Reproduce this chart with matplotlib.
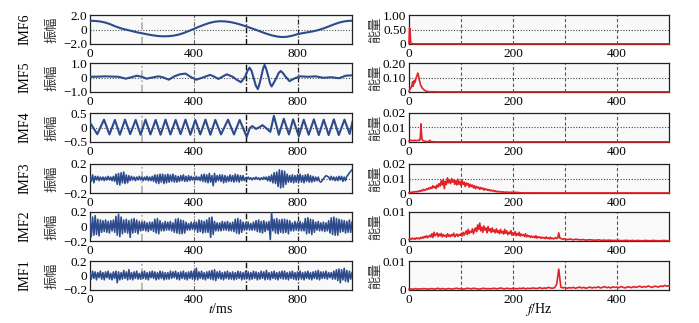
import numpy as np
import matplotlib
matplotlib.use("Agg")
import matplotlib.pyplot as plt

plt.rcParams['font.family'] = ['Liberation Serif', 'DejaVu Serif']
plt.rcParams['mathtext.fontset'] = 'stix'

# ---------------- data ----------------
imf_names = ['IMF6', 'IMF5', 'IMF4', 'IMF3', 'IMF2', 'IMF1']

# IMF6 (ms, amplitude)
t6 = [0, 20, 40, 60, 80, 100, 120, 140, 160, 180, 200, 220, 240, 260, 280, 300, 320, 340, 360, 380,
      400, 420, 440, 460, 480, 500, 520, 540, 560, 580, 600, 620, 640, 660, 680, 700, 720, 740, 760, 780,
      800, 820, 840, 860, 880, 900, 920, 940, 960, 980, 1000, 1010]
v6 = [1.20, 1.18, 1.10, 0.95, 0.70, 0.40, 0.15, -0.03, -0.20, -0.38, -0.52, -0.66, -0.79, -0.89, -0.94, -0.93, -0.86, -0.72, -0.50, -0.22,
      0.08, 0.38, 0.66, 0.90, 1.07, 1.14, 1.12, 1.03, 0.88, 0.68, 0.45, 0.20, -0.05, -0.32, -0.58, -0.80, -0.96, -1.04, -1.00, -0.85,
      -0.65, -0.50, -0.38, -0.25, -0.08, 0.15, 0.42, 0.70, 0.95, 1.12, 1.20, 1.21]

# IMF5
t5 = [0, 30, 60, 90, 110, 138, 160, 180, 200, 218, 240, 263, 280, 304, 325, 346, 368, 390, 410, 435,
      463, 480, 495, 510, 527, 550, 565, 582, 598, 607, 615, 623, 631, 639, 647, 654, 660, 667, 673, 680,
      687, 694, 700, 709, 718, 727, 735, 744, 752, 769, 790, 810, 840, 870, 900, 930, 960, 985, 1010]
v5 = [0.05, 0.06, 0.08, 0.06, 0.05, -0.08, 0.02, 0.12, 0.05, -0.08, 0.00, 0.08, 0.02, -0.15, 0.08, 0.22, 0.27, 0.02, -0.15, 0.00,
      0.18, 0.05, -0.10, 0.05, 0.22, 0.05, -0.15, -0.32, 0.05, 0.45, 0.68, 0.45, -0.05, -0.55, -0.80, -0.40, 0.05, 0.60, 0.87, 0.55,
      0.10, -0.40, -0.62, -0.35, -0.05, 0.30, 0.45, 0.30, 0.10, -0.25, -0.05, 0.08, 0.05, 0.08, -0.02, 0.02, -0.05, 0.12, 0.15]

# IMF4 (extrema)
t4 = [0, 28, 54, 75, 96, 115, 135, 155, 176, 195, 214, 233, 253, 272, 291, 310, 330, 349, 368, 387,
      406, 425, 445, 464, 483, 505, 532, 555, 577, 604, 616, 626, 640, 655, 665, 680, 695, 709, 728, 747,
      767, 783, 805, 824, 843, 863, 882, 901, 920, 940, 959, 981, 1001, 1012]
v4 = [0.17, -0.23, 0.27, -0.24, 0.26, -0.25, 0.27, -0.23, 0.26, -0.25, 0.27, -0.24, 0.26, -0.25, 0.27, -0.24, 0.26, -0.23, 0.27, -0.25,
      0.26, -0.24, 0.27, -0.25, 0.26, -0.24, 0.27, -0.24, 0.26, -0.32, -0.02, 0.05, -0.05, 0.02, 0.08, -0.03, -0.15, 0.40, -0.25, 0.30,
      -0.24, 0.28, -0.30, 0.27, -0.25, 0.28, -0.26, 0.27, -0.26, 0.28, -0.26, 0.27, -0.22, 0.20]

# IMF3, IMF2, IMF1: one value every 5 ms, in units of 0.01
imf3 = [3, -4, 5, -6, 3, -2, 3, -3, 2, -2,
        2, -3, 2, -2, 3, -2, 2, -3, 3, -4,
        6, -8, 7, -9, 8, -6, 9, -7, 5, -6,
        4, -3, 3, -2, 2, -3, 2, -2, 3, -2,
        2, -3, 2, -2, 3, -3, 2, -3, 3, -4,
        5, -6, 5, -7, 6, -5, 6, -7, 5, -6,
        6, -5, 5, -4, 6, -5, 4, -5, 3, -4,
        4, -3, 5, -4, 3, -4, 4, -3, 3, -2,
        2, -2, 3, -2, 2, -3, 5, -4, 6, -5,
        5, -6, 7, -5, 4, -10, 7, -5, 4, -3,
        5, -4, 5, -6, 4, -5, 3, -4, 5, -4,
        4, -5, 6, -4, 5, -5, 4, -3, 4, -3,
        1, -1, 2, -1, 1, -2, 1, -1, 2, -1,
        1, -2, 1, -1, 2, -1, 2, -3, 3, -4,
        5, -6, 8, -7, 9, -11, 12, -13, 11, -12,
        10, -8, 6, -5, 4, -5, 5, -6, 4, -5,
        5, -4, 6, -5, 4, -6, 5, -4, 6, -5,
        4, -5, 3, -4, 2, -3, 2, -4, -5, -3,
        0, 2, 4, 3, 2, -2, 3, -2, 2, -3,
        2, -3, 3, -2, 3, -4, 2, -3, 3, 5,
        8, 10, 12]
imf2 = [12, -14, 13, -12, 15, -11, 10, -13, 9, -8,
        8, -7, 9, -8, 7, -9, 8, -6, 9, -8,
        14, -12, 17, -14, 13, -10, 9, -8, 10, -9,
        8, -15, 10, -9, 11, -8, 9, -10, 7, -6,
        6, -5, 7, -6, 5, -7, 6, -5, 6, -7,
        10, -9, 11, -10, 8, -6, 5, -6, 7, -5,
        6, -5, 7, -6, 5, -8, 10, -9, 11, -10,
        9, -10, 8, -9, 6, -5, 4, -5, 6, -4,
        5, -4, 6, -8, 9, -7, 8, -9, 7, -8,
        9, -8, 12, -15, 13, -11, 7, -6, 5, -6,
        5, -6, 7, -5, 6, -5, 7, -6, 5, -6,
        6, -7, 10, -9, 11, -10, 9, -8, 6, -5,
        5, -4, 6, -5, 4, -5, 6, -5, 8, -7,
        9, -8, 7, -9, 8, -7, 6, -5, 7, -18,
        20, -6, 10, -9, 11, -10, 9, -8, 10, -9,
        10, -8, 9, -10, 8, -6, 5, -6, 7, -5,
        6, -5, 7, -6, 5, -6, 11, -10, 12, -9,
        10, -11, 9, -8, 6, -5, 7, -6, 5, -6,
        6, -7, 5, -6, 8, -9, 12, -11, 13, -12,
        11, -12, 10, -8, 9, -7, 8, -9, 7, -8,
        9, -8, 6]
imf1 = [3, -5, 6, -4, 5, -6, 4, -3, 6, -5,
        4, -6, 5, -3, 6, -5, 3, -6, 5, -4,
        6, -10, 5, -6, 4, -5, 7, -4, 5, -6,
        8, -5, 4, -6, 5, -4, 6, -5, 3, -5,
        5, -4, 6, -5, 4, -6, 5, -3, 6, -4,
        5, -6, 4, -5, 6, -4, 5, -6, 4, -5,
        4, -5, 6, -4, 5, -3, 6, -5, 4, -6,
        5, -4, 6, -5, 4, -6, 5, -4, 6, -5,
        6, -5, 10, -6, 5, -4, 6, -5, 4, -6,
        5, -4, 6, -5, 7, -6, 8, -7, 5, -4,
        6, -5, 4, -6, 5, -4, 6, -5, 4, -5,
        5, -6, 4, -5, 6, -4, 5, -6, 4, -5,
        6, -4, 5, -6, 4, -5, 6, -4, 5, -6,
        4, -5, 6, -4, 5, -6, 7, -5, 4, -6,
        5, -4, 6, -5, 4, -6, 5, -4, 6, -5,
        6, -5, 4, -6, 5, -4, 6, -5, 4, -6,
        5, -4, 6, -5, 4, -6, 5, -4, 6, -5,
        4, -6, 5, -4, 6, -5, 7, -6, 5, -4,
        5, -4, 6, -5, 4, -3, 4, -5, 6, -5,
        8, -7, 9, -10, 8, -6, 10, -8, 7, -9,
        6, -5, 4]
noise_step_ms = 5

# spectra
f6 = [0, 1, 2, 3, 4, 6, 10, 500]
e6 = [0.02, 0.55, 0.52, 0.10, 0.02, 0.01, 0.005, 0.005]

f5 = [0, 2, 4, 6, 7, 8, 9, 10, 11, 12, 13, 14, 15, 16, 17, 18, 19, 20, 21, 22, 23, 24, 26, 28, 30, 33, 36, 40, 60, 500]
e5 = [0.005, 0.02, 0.03, 0.05, 0.07, 0.04, 0.075, 0.06, 0.08, 0.07, 0.09, 0.10, 0.11, 0.12, 0.13, 0.12, 0.10, 0.08,
      0.07, 0.05, 0.045, 0.035, 0.025, 0.018, 0.012, 0.006, 0.003, 0.002, 0.001, 0.001]

f4 = [0, 2, 4, 6, 8, 10, 12, 14, 16, 18, 20, 21, 22, 23, 24, 25, 26, 28, 30, 32, 35, 38, 40, 42, 45, 50, 500]
e4 = [0.0008, 0.001, 0.0012, 0.0009, 0.0011, 0.001, 0.0012, 0.0009, 0.001, 0.0013, 0.0011, 0.0015, 0.004, 0.0125,
      0.006, 0.002, 0.0012, 0.0008, 0.0006, 0.0004, 0.0003, 0.0003, 0.0012, 0.0003, 0.0002, 0.0001, 0.0001]

# IMF3 spectrum, every 2 Hz from 0 Hz, units of 0.001
e3_low = [0.2, 0.3, 0.5, 0.4, 0.8, 0.6, 1.0, 0.7, 1.2, 0.9,
          1.5, 1.1, 2.0, 1.4, 2.5, 1.8, 2.2, 3.0, 2.4, 3.5,
          2.8, 4.0, 3.2, 5.0, 3.6, 4.5, 3.0, 5.5, 4.2, 6.5,
          4.8, 8.5, 5.5, 9.5, 3.0, 8.0, 6.0, 10.5, 7.0, 9.0,
          6.5, 10.0, 7.5, 9.0, 6.0, 8.5, 5.5, 9.5, 6.0, 8.0,
          5.0, 8.5, 6.0, 7.5, 4.5, 7.0, 5.5, 6.5, 4.0, 6.0,
          4.5, 5.5, 3.5, 5.0, 3.0, 4.5, 3.5, 4.0, 2.5, 3.8,
          2.8, 3.5, 2.0, 3.0, 2.2, 2.6, 1.8, 2.4, 1.5, 2.0,
          1.4, 1.8, 1.0, 1.5, 0.9, 1.2, 0.7, 1.0, 0.6, 0.9,
          0.5, 0.8, 0.4, 0.6, 0.5, 0.7, 0.3, 0.5, 0.4, 0.6,
          0.3, 0.5, 0.4, 0.3, 0.5, 0.2, 0.3, 0.2, 0.1, 0.1]
f3_tail = [220, 260, 300, 350, 400, 450, 500]
e3_tail = [0.08, 0.06, 0.05, 0.05, 0.04, 0.04, 0.04]

# IMF2 spectrum, every 2 Hz from 0 to 298 Hz, then every 5 Hz, units of 0.0001
e2_low = [5, 8, 6, 10, 7, 9, 6, 11, 8, 10,
          7, 12, 9, 14, 10, 16, 12, 18, 11, 15,
          20, 14, 25, 12, 30, 18, 22, 28, 15, 24,
          18, 26, 14, 22, 17, 20, 13, 25, 16, 21,
          15, 22, 18, 27, 14, 20, 24, 16, 22, 19,
          25, 17, 30, 20, 28, 35, 22, 40, 26, 33,
          30, 42, 25, 38, 45, 32, 55, 40, 62, 35,
          48, 30, 52, 38, 45, 28, 50, 35, 42, 30,
          45, 32, 38, 28, 42, 30, 35, 25, 40, 28,
          33, 24, 40, 27, 35, 22, 30, 25, 36, 20,
          28, 22, 32, 18, 26, 20, 30, 17, 24, 19,
          22, 16, 25, 14, 20, 15, 18, 12, 17, 13,
          16, 11, 18, 10, 15, 12, 14, 9, 13, 10,
          12, 8, 14, 9, 11, 7, 13, 8, 10, 7,
          9, 12, 8, 11, 28, 10, 9, 7, 6, 8]
e2_tail = [6, 5, 7, 4, 6, 5, 4, 5, 3, 4, 4, 3, 3, 4, 2, 3, 2, 3, 2, 2,
           2, 2, 1, 2, 2, 1, 2, 1, 2, 1, 1, 2, 1, 1, 2, 1, 1, 1, 2, 1, 1]

# IMF1 spectrum, every 4 Hz from 0 to 500 Hz, units of 0.0001
e1 = [3, 4, 2, 5, 3, 4, 3, 5, 4, 3,
      4, 5, 3, 4, 6, 3, 5, 4, 3, 5,
      4, 3, 5, 6, 4, 5, 3, 4, 6, 5,
      4, 6, 5, 4, 3, 5, 6, 4, 5, 4,
      5, 6, 4, 5, 7, 5, 4, 6, 5, 4,
      6, 5, 4, 6, 5, 7, 4, 6, 5, 6,
      7, 5, 6, 8, 5, 7, 6, 9, 7, 6,
      8, 20, 72, 10, 7, 9, 6, 8, 7, 9,
      6, 8, 10, 7, 9, 6, 8, 10, 7, 9,
      8, 11, 7, 9, 12, 8, 10, 7, 11, 9,
      10, 8, 12, 9, 7, 11, 10, 8, 12, 9,
      11, 13, 9, 12, 10, 14, 11, 9, 13, 12,
      10, 14, 12, 16, 13, 15]

left_ylims = [2.0, 1.0, 0.5, 0.2, 0.2, 0.2]
left_ytick_labels = [['\u22122.0', '0', '2.0'], ['\u22121.0', '0', '1.0'], ['\u22120.5', '0', '0.5'],
                     ['\u22120.2', '0', '0.2'], ['\u22120.2', '0', '0.2'], ['\u22120.2', '0', '0.2']]
right_ymax = [1.0, 0.2, 0.02, 0.02, 0.01, 0.01]
right_yticks = [[0, 0.5, 1.0], [0, 0.1, 0.2], [0, 0.01, 0.02], [0, 0.01, 0.02], [0, 0.01], [0, 0.01]]
right_ytick_labels = [['0', '0.50', '1.00'], ['0', '0.10', '0.20'], ['0', '0.01', '0.02'],
                      ['0', '0.01', '0.02'], ['0', '0.01'], ['0', '0.01']]

# ---------------- build series ----------------
left_series = [
    (np.array(t6), np.array(v6)),
    (np.array(t5), np.array(v5)),
    (np.array(t4), np.array(v4)),
    (np.arange(len(imf3)) * noise_step_ms, np.array(imf3) / 100.0),
    (np.arange(len(imf2)) * noise_step_ms, np.array(imf2) / 100.0),
    (np.arange(len(imf1)) * noise_step_ms, np.array(imf1) / 100.0),
]
f3 = np.concatenate([np.arange(len(e3_low)) * 2, f3_tail])
s3 = np.concatenate([np.array(e3_low) / 1000.0, np.array(e3_tail) / 1000.0])
f2 = np.concatenate([np.arange(len(e2_low)) * 2, 300 + np.arange(len(e2_tail)) * 5])
s2 = np.concatenate([np.array(e2_low), np.array(e2_tail)]) / 10000.0
f1 = np.arange(len(e1)) * 4
s1 = np.array(e1) / 10000.0
right_series = [
    (np.array(f6), np.array(e6)),
    (np.array(f5), np.array(e5)),
    (np.array(f4), np.array(e4)),
    (f3, s3), (f2, s2), (f1, s1),
]

# ---------------- figure ----------------
W, H = 699, 323
fig = plt.figure(figsize=(W / 100, H / 100), dpi=100)
fig.patch.set_facecolor('white')

row_tops = [15, 63, 113, 164, 212, 261]
row_h = 29
blue = '#2c4a8c'
red = '#e32227'
face = '#f9f9f9'
cjk = ['Noto Sans CJK SC', 'DejaVu Sans']

def px_axes(x0, y0, w, h):
    return fig.add_axes([x0 / W, 1 - (y0 + h) / H, w / W, h / H])

for i in range(6):
    top = row_tops[i]
    # ---------- left ----------
    ax = px_axes(90, top, 262, row_h)
    ax.set_facecolor(face)
    t, v = left_series[i]
    lw = 1.5 if i < 3 else 1.15
    ax.plot(t, v, color=blue, lw=lw, zorder=3, solid_joinstyle='round')
    lim = left_ylims[i]
    ax.set_xlim(0, 1010)
    ax.set_ylim(-lim, lim)
    ax.set_yticks([-lim, 0, lim])
    ax.set_yticklabels(left_ytick_labels[i])
    ax.set_xticks([0, 200, 400, 600, 800])
    ax.set_xticklabels(['0', '', '400', '', '800'])
    ax.axhline(0, color='#555555', ls=(0, (1, 1.5)), lw=0.8, zorder=1)
    for xv, c, w_ in [(200, '#b5b5b5', 1.3), (400, '#666666', 0.8), (600, '#111111', 1.0), (800, '#222222', 0.9)]:
        ax.axvline(xv, color=c, lw=w_, ls=(0, (4, 1.5, 1, 1.5)), zorder=1)
    ax.tick_params(length=0, labelsize=9.5, pad=2)
    ax.tick_params(axis='x', pad=3)
    for s in ax.spines.values():
        s.set_color('#222222')
        s.set_linewidth(0.9)
    cy = 1 - (top + row_h / 2) / H
    fig.text(25 / W, cy, imf_names[i], rotation=90, ha='center', va='center', fontsize=10)
    fig.text(52 / W, cy, '振幅', rotation=90, ha='center', va='center', fontsize=9.5, family=cjk, color='#333333')

    # ---------- right ----------
    ax2 = px_axes(409, top, 260, row_h)
    ax2.set_facecolor(face)
    f, e = right_series[i]
    ax2.plot(f, e, color=red, lw=1.2, zorder=3, clip_on=False)
    ax2.set_xlim(0, 500)
    ax2.set_ylim(0, right_ymax[i])
    ax2.set_yticks(right_yticks[i])
    ax2.set_yticklabels(right_ytick_labels[i])
    ax2.set_xticks([0, 100, 200, 300, 400])
    ax2.set_xticklabels(['0', '', '200', '', '400'])
    if len(right_yticks[i]) == 3:
        ax2.axhline(right_yticks[i][1], color='#444444', ls=(0, (1, 1.5)), lw=0.8, zorder=1)
    for xv in [100, 200, 300, 400]:
        ax2.axvline(xv, color='#555555', lw=0.8, ls=(0, (3, 2)), zorder=1)
    ax2.tick_params(length=0, labelsize=9.5, pad=2)
    ax2.tick_params(axis='x', pad=3)
    for s in ax2.spines.values():
        s.set_color('#222222')
        s.set_linewidth(0.9)
    fig.text(376 / W, cy, '能量', rotation=90, ha='center', va='center', fontsize=9.5, family=cjk, color='#333333')

fig.text(221 / W, 1 - 309 / H, '$\\mathit{t}$/ms', ha='center', va='center', fontsize=10)
fig.text(539 / W, 1 - 309 / H, '$\\mathit{f}$/Hz', ha='center', va='center', fontsize=10)

fig.savefig('out.png', dpi=100, facecolor='white')
